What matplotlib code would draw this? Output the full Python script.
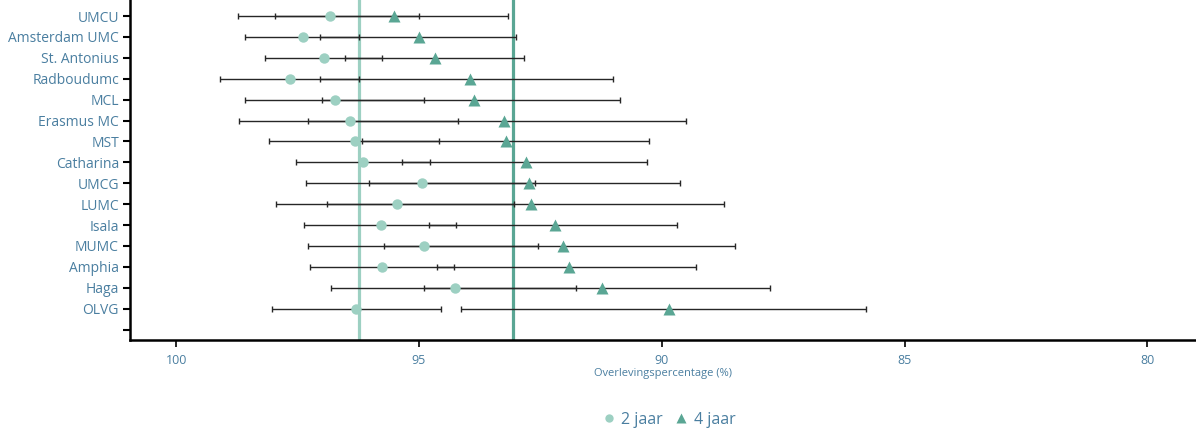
import matplotlib.pyplot as plt
from matplotlib.lines import Line2D
import numpy as np

plt.rcParams['font.family'] = ['Open Sans', 'DejaVu Sans']

hospitals = ['UMCU', 'Amsterdam UMC', 'St. Antonius', 'Radboudumc', 'MCL', 'Erasmus MC',
             'MST', 'Catharina', 'UMCG', 'LUMC', 'Isala', 'MUMC', 'Amphia', 'Haga', 'OLVG']

# 2 jaar overleving (%) met betrouwbaarheidsinterval
surv_2y = [96.83, 97.39, 96.95, 97.65, 96.72, 96.42, 96.31, 96.16, 94.94, 95.46,
           95.78, 94.89, 95.76, 94.25, 96.29]
ci_2y_low = [95.00, 96.24, 95.76, 96.24, 94.89, 94.19, 94.58, 94.78, 92.61, 93.04,
             94.24, 92.55, 94.27, 91.77, 94.55]
ci_2y_high = [98.72, 98.59, 98.18, 99.09, 98.59, 98.70, 98.09, 97.54, 97.33, 97.94,
              97.36, 97.28, 97.25, 96.81, 98.03]

# 4 jaar overleving (%) met betrouwbaarheidsinterval
surv_4y = [95.52, 95.00, 94.66, 93.95, 93.86, 93.25, 93.21, 92.79, 92.73, 92.69,
           92.20, 92.03, 91.92, 91.23, 89.86]
ci_4y_low = [93.16, 93.01, 92.84, 91.01, 90.86, 89.50, 90.27, 90.31, 89.63, 88.72,
             89.68, 88.50, 89.29, 87.78, 85.79]
ci_4y_high = [97.96, 97.04, 96.52, 97.03, 97.00, 97.28, 96.18, 95.34, 96.02, 96.89,
              94.80, 95.72, 94.62, 94.89, 94.14]

mean_2y = 96.23
mean_4y = 93.06

light = '#9dd0c2'
dark = '#5aa694'
text_col = '#4a7ea0'

fig = plt.figure(figsize=(11.96, 4.36), dpi=100)
ax = fig.add_axes([130 / 1196, 96 / 436, 1066 / 1196, 340 / 436])

n = len(hospitals)
y = np.arange(n, 0, -1)  # top row highest, empty slot at 0

ax.axvline(mean_2y, color=light, lw=2.3, zorder=1)
ax.axvline(mean_4y, color=dark, lw=2.3, zorder=1)

s2 = np.array(surv_2y)
s4 = np.array(surv_4y)
ax.errorbar(s2, y, xerr=[s2 - np.array(ci_2y_low), np.array(ci_2y_high) - s2],
            fmt='none', ecolor='#262626', elinewidth=1.0, capsize=2.2, capthick=1.0, zorder=2)
ax.errorbar(s4, y, xerr=[s4 - np.array(ci_4y_low), np.array(ci_4y_high) - s4],
            fmt='none', ecolor='#262626', elinewidth=1.0, capsize=2.2, capthick=1.0, zorder=2)

ax.plot(s2, y, 'o', color=light, ms=7.5, mec='none', zorder=3)
ax.plot(s4, y, '^', color=dark, ms=8.5, mec='none', zorder=3)

ax.set_xlim(100.95, 79.0)
ax.set_ylim(-0.5, 15.77)
ax.set_xticks([100, 95, 90, 85, 80])
ax.set_xticklabels(['100', '95', '90', '85', '80'])
ax.set_yticks(list(y) + [0])
ax.set_yticklabels(hospitals + [''])

for side in ['top', 'right']:
    ax.spines[side].set_visible(False)
for side in ['left', 'bottom']:
    ax.spines[side].set_linewidth(1.8)
    ax.spines[side].set_color('black')

ax.tick_params(axis='y', length=5, width=1.5, labelsize=10, labelcolor=text_col, pad=3)
ax.tick_params(axis='x', length=5, width=1.2, labelsize=9, labelcolor=text_col, pad=5)
ax.set_xlabel('Overlevingspercentage (%)', fontsize=8, color=text_col, labelpad=1)

handles = [Line2D([], [], marker='o', color=light, ls='none', ms=6, mec='none'),
           Line2D([], [], marker='^', color=dark, ls='none', ms=7, mec='none')]
leg = fig.legend(handles, ['2 jaar', '4 jaar'], loc='center', bbox_to_anchor=(668 / 1196, 1 - 420 / 436),
                 ncol=2, frameon=False, fontsize=11.5, handletextpad=0.3, columnspacing=0.6,
                 handlelength=1.0)
for t in leg.get_texts():
    t.set_color(text_col)

fig.savefig('out.png', dpi=100)
